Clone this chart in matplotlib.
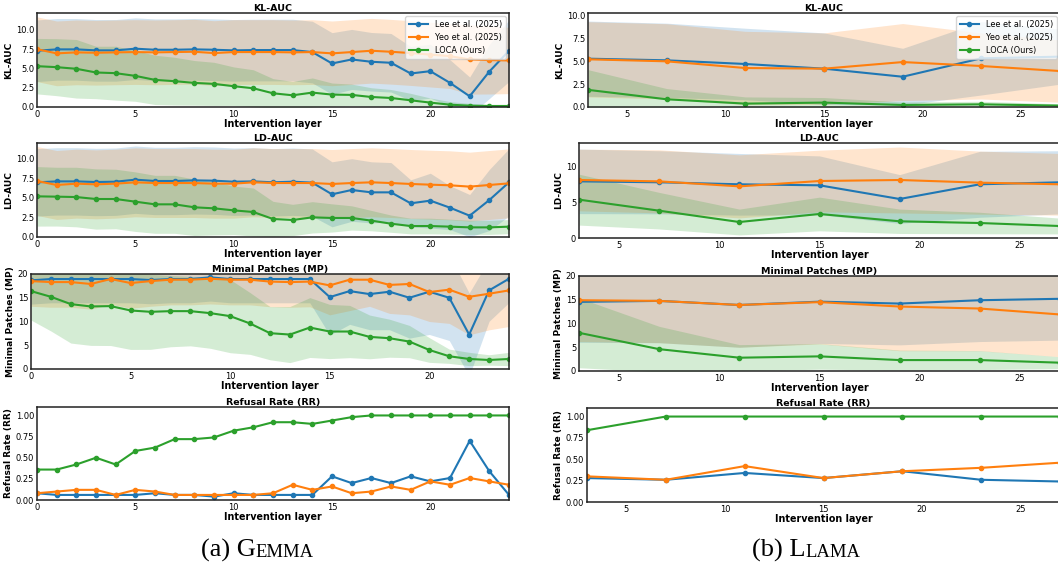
import matplotlib
matplotlib.use("Agg")
import matplotlib.pyplot as plt
import numpy as np

W, H = 1058, 565

methods = ["Lee et al. (2025)", "Yeo et al. (2025)", "LOCA (Ours)"]
colors = ["tab:blue", "tab:orange", "tab:green"]

# ---------------- Gemma (layers 0..24) ----------------
gemma_layers = list(range(25))

gemma_kl_lee = [7.3, 7.48, 7.48, 7.35, 7.35, 7.57, 7.43, 7.43, 7.48, 7.43, 7.35, 7.39, 7.39,
                7.39, 7.13, 5.65, 6.17, 5.87, 5.74, 4.35, 4.65, 3.13, 1.39, 4.6, 7.3]
gemma_kl_yeo = [7.5, 6.96, 7.09, 7.04, 7.09, 7.13, 7.09, 7.13, 7.17, 7.0, 7.13, 7.13, 7.13,
                7.09, 7.13, 6.96, 7.13, 7.3, 7.17, 7.0, 6.8, 6.6, 6.17, 6.09, 6.04]
gemma_kl_loca = [5.3, 5.17, 4.96, 4.48, 4.39, 4.04, 3.52, 3.35, 3.13, 3.0, 2.7, 2.43, 1.78,
                 1.52, 1.87, 1.61, 1.57, 1.3, 1.17, 0.87, 0.57, 0.3, 0.17, 0.13, 0.13]
gemma_kl_lee_std = [4.0] * 15 + [4.0, 3.9, 3.8, 3.8, 3.5, 3.5, 3.0, 2.5, 3.5, 4.0]
gemma_kl_yeo_std = [4.2] * 22 + [4.5, 4.4, 4.3]
gemma_kl_loca_std = [3.6, 3.7, 3.8, 3.4, 3.5, 3.3, 3.2, 3.1, 2.9, 2.8, 2.5, 2.4, 1.9,
                     1.8, 1.9, 1.5, 1.4, 1.2, 1.1, 0.9, 0.6, 0.4, 0.3, 0.2, 0.2]

gemma_ld_lee = [6.98, 7.1, 7.1, 7.02, 7.06, 7.32, 7.15, 7.15, 7.23, 7.19, 7.06, 7.1, 6.98,
                7.06, 6.94, 5.45, 6.0, 5.7, 5.7, 4.3, 4.64, 3.74, 2.72, 4.72, 6.98]
gemma_ld_yeo = [7.15, 6.64, 6.81, 6.72, 6.81, 6.98, 6.89, 6.89, 6.89, 6.81, 6.81, 6.98, 6.89,
                6.89, 6.89, 6.77, 6.89, 6.98, 6.89, 6.77, 6.68, 6.6, 6.43, 6.64, 6.85]
gemma_ld_loca = [5.19, 5.15, 5.1, 4.85, 4.85, 4.51, 4.17, 4.17, 3.79, 3.66, 3.4, 3.19, 2.3,
                 2.17, 2.51, 2.43, 2.43, 2.09, 1.7, 1.4, 1.4, 1.32, 1.23, 1.23, 1.32]
gemma_ld_lee_std = [4.3] * 15 + [4.15, 4.0, 3.9, 3.8, 3.0, 3.5, 2.8, 2.7, 3.9, 4.3]
gemma_ld_yeo_std = [4.4] * 25
gemma_ld_loca_std = [3.8, 3.75, 3.8, 3.85, 3.8, 3.8, 3.7, 3.7, 3.6, 3.4, 3.1, 3.06, 2.25,
                     2.0, 2.0, 1.8, 1.55, 1.3, 1.1, 1.0, 1.0, 0.95, 0.9, 0.9, 0.9]

gemma_mp_lee = [18.66, 18.94, 18.94, 18.94, 18.94, 18.94, 18.73, 18.94, 18.94, 19.3, 18.94, 18.94, 18.94,
                18.94, 18.94, 15.14, 16.4, 15.77, 16.27, 15.0, 16.27, 15.0, 7.25, 16.55, 19.0]
gemma_mp_yeo = [18.5, 18.3, 18.3, 17.9, 18.94, 18.1, 18.5, 18.8, 18.8, 19.0, 18.8, 18.8, 18.4,
                18.3, 18.4, 17.6, 18.8, 18.8, 17.7, 17.9, 16.2, 16.7, 15.2, 15.85, 16.55]
gemma_mp_loca = [16.4, 15.2, 13.66, 13.17, 13.24, 12.32, 12.04, 12.18, 12.18, 11.76, 11.13, 9.58, 7.54,
                 7.25, 8.73, 7.89, 7.89, 6.76, 6.48, 5.77, 4.0, 2.68, 2.11, 1.9, 2.11]
gemma_mp_lee_std = [5.0] * 15 + [8.0, 7.0, 7.5, 8.0, 8.5, 9.0, 9.0, 8.75, 6.5, 5.0]
gemma_mp_yeo_std = [5.3] * 15 + [6.2, 6.5, 5.6, 6.0, 6.5, 6.2, 7.1, 8.0, 7.6, 7.6]
gemma_mp_loca_std = [6.1, 7.2, 8.2, 8.2, 8.3, 8.2, 7.9, 7.5, 7.3, 7.4, 7.7, 6.5, 5.6,
                     5.9, 6.3, 5.7, 5.5, 4.6, 4.0, 3.4, 2.6, 1.5, 1.4, 1.1, 1.4]

gemma_rr_lee = [0.08, 0.06, 0.06, 0.06, 0.06, 0.06, 0.08, 0.06, 0.06, 0.04, 0.08, 0.06, 0.06,
                0.06, 0.06, 0.28, 0.20, 0.26, 0.20, 0.28, 0.22, 0.26, 0.70, 0.34, 0.06]
gemma_rr_yeo = [0.08, 0.10, 0.12, 0.12, 0.06, 0.12, 0.10, 0.06, 0.06, 0.06, 0.06, 0.06, 0.08,
                0.18, 0.12, 0.16, 0.08, 0.10, 0.16, 0.12, 0.22, 0.18, 0.26, 0.22, 0.18]
gemma_rr_loca = [0.36, 0.36, 0.42, 0.50, 0.42, 0.58, 0.62, 0.72, 0.72, 0.74, 0.82, 0.86, 0.92,
                 0.92, 0.90, 0.94, 0.98, 1.0, 1.0, 1.0, 1.0, 1.0, 1.0, 1.0, 1.0]

# ---------------- Llama (every 4th layer) ----------------
llama_layers = [3, 7, 11, 15, 19, 23, 27]

llama_kl_lee = [5.27, 5.09, 4.69, 4.18, 3.3, 5.31, 5.49]
llama_kl_yeo = [5.2, 4.98, 4.25, 4.18, 4.9, 4.47, 3.92]
llama_kl_loca = [1.87, 0.84, 0.37, 0.48, 0.22, 0.29, 0.15]
llama_kl_lee_std = [4.1, 4.05, 3.9, 3.9, 3.1, 4.0, 3.0]
llama_kl_yeo_std = [4.1, 4.1, 4.0, 3.9, 4.2, 3.6, 3.4]
llama_kl_loca_std = [2.2, 1.17, 0.73, 0.55, 0.33, 0.33, 0.2]

llama_ld_lee = [7.9, 7.77, 7.49, 7.35, 5.44, 7.49, 7.77]
llama_ld_yeo = [8.09, 7.9, 7.2, 7.95, 8.09, 7.72, 7.49]
llama_ld_loca = [5.35, 3.81, 2.23, 3.35, 2.33, 2.09, 1.67]
llama_ld_lee_std = [4.5, 4.4, 4.3, 4.1, 3.4, 4.6, 4.4]
llama_ld_yeo_std = [4.3, 4.4, 4.4, 4.3, 4.6, 4.4, 4.3]
llama_ld_loca_std = [3.55, 2.55, 1.8, 2.35, 1.7, 1.5, 1.1]

llama_mp_lee = [14.55, 14.76, 13.9, 14.6, 14.2, 14.9, 15.2]
llama_mp_yeo = [14.9, 14.76, 13.9, 14.5, 13.57, 13.15, 11.9]
llama_mp_loca = [8.04, 4.6, 2.8, 3.08, 2.3, 2.3, 1.75]
llama_mp_lee_std = [8.5, 8.8, 8.9, 8.8, 8.7, 8.7, 8.7]
llama_mp_yeo_std = [8.7, 8.8, 8.9, 8.8, 9.3, 8.9, 8.9]
llama_mp_loca_std = [7.35, 4.8, 2.75, 2.7, 2.1, 2.0, 1.25]

llama_rr_lee = [0.28, 0.26, 0.34, 0.28, 0.36, 0.26, 0.24]
llama_rr_yeo = [0.30, 0.26, 0.42, 0.28, 0.36, 0.40, 0.46]
llama_rr_loca = [0.84, 1.0, 1.0, 1.0, 1.0, 1.0, 1.0]

llama_ticks = [5, 10, 15, 20, 25]


def px_axes(fig, left, top, right, bottom):
    return fig.add_axes([left / W, 1 - bottom / H, (right - left) / W, (bottom - top) / H])


def draw_panel(ax, x, means, stds, title, ylabel, ylim, xlim, legend=False):
    if stds is not None:
        for m, s, c in zip(means, stds, colors):
            m = np.array(m)
            s = np.array(s)
            ax.fill_between(x, m - s, m + s, color=c, alpha=0.2, lw=0)
    for m, c, lab in zip(means, colors, methods):
        ax.plot(x, m, '-o', color=c, lw=1.5, ms=3, label=lab)
    ax.set_xlim(*xlim)
    ax.set_ylim(*ylim)
    ax.set_title(title, fontsize=6.8, fontweight='bold', pad=1.5)
    ax.set_ylabel(ylabel, fontsize=6.5, fontweight='bold', labelpad=2)
    ax.set_xlabel("Intervention layer", fontsize=6.9, fontweight='bold', labelpad=0.5)
    ax.tick_params(labelsize=6, length=0, pad=2)
    for sp in ax.spines.values():
        sp.set_linewidth(1.1)
        sp.set_color('#222222')
    if legend:
        ax.legend(loc='upper right', fontsize=5.9, handlelength=2.4, borderpad=0.45,
                  labelspacing=0.5, borderaxespad=0.4)


def small_caps(fig, renderer, x, y, first, rest):
    t = fig.text(x / W, 1 - y / H, first, fontsize=19, family='Liberation Serif', va='baseline')
    bb = t.get_window_extent(renderer)
    fig.text(bb.x1 / W, 1 - y / H, rest, fontsize=13.4, family='Liberation Serif', va='baseline')


fig = plt.figure(figsize=(W / 100, H / 100), dpi=100)

# left column: Gemma
ax = px_axes(fig, 37, 13, 509, 107)
draw_panel(ax, gemma_layers, [gemma_kl_lee, gemma_kl_yeo, gemma_kl_loca],
           [gemma_kl_lee_std, gemma_kl_yeo_std, gemma_kl_loca_std],
           "KL-AUC", "KL-AUC", (0, 12.2), (0, 24), legend=True)
ax.set_yticks([0, 2.5, 5, 7.5, 10])
ax = px_axes(fig, 37, 143, 509, 237)
draw_panel(ax, gemma_layers, [gemma_ld_lee, gemma_ld_yeo, gemma_ld_loca],
           [gemma_ld_lee_std, gemma_ld_yeo_std, gemma_ld_loca_std],
           "LD-AUC", "LD-AUC", (0, 12), (0, 24))
ax.set_yticks([0, 2.5, 5, 7.5, 10])
ax = px_axes(fig, 31, 274, 509, 369)
draw_panel(ax, gemma_layers, [gemma_mp_lee, gemma_mp_yeo, gemma_mp_loca],
           [gemma_mp_lee_std, gemma_mp_yeo_std, gemma_mp_loca_std],
           "Minimal Patches (MP)", "Minimal Patches (MP)", (0, 20), (0, 24))
ax = px_axes(fig, 37, 407, 509, 500)
draw_panel(ax, gemma_layers, [gemma_rr_lee, gemma_rr_yeo, gemma_rr_loca], None,
           "Refusal Rate (RR)", "Refusal Rate (RR)", (0, 1.1), (0, 24))
ax.set_yticks([0, 0.25, 0.5, 0.75, 1.0])

# right column: Llama (the source figure is cut at the right edge)
ax = px_axes(fig, 588, 13, 1060, 107)
draw_panel(ax, llama_layers, [llama_kl_lee, llama_kl_yeo, llama_kl_loca],
           [llama_kl_lee_std, llama_kl_yeo_std, llama_kl_loca_std],
           "KL-AUC", "KL-AUC", (0, 10.25), (3, 27), legend=True)
ax.set_yticks([0, 2.5, 5, 7.5, 10])
ax.set_xticks(llama_ticks)
ax = px_axes(fig, 579, 143, 1060, 238)
draw_panel(ax, llama_layers, [llama_ld_lee, llama_ld_yeo, llama_ld_loca],
           [llama_ld_lee_std, llama_ld_yeo_std, llama_ld_loca_std],
           "LD-AUC", "LD-AUC", (0, 13.25), (3, 27))
ax.set_xticks(llama_ticks)
ax = px_axes(fig, 579, 276, 1060, 371)
draw_panel(ax, llama_layers, [llama_mp_lee, llama_mp_yeo, llama_mp_loca],
           [llama_mp_lee_std, llama_mp_yeo_std, llama_mp_loca_std],
           "Minimal Patches (MP)", "Minimal Patches (MP)", (0, 20), (3, 27))
ax.set_xticks(llama_ticks)
ax = px_axes(fig, 587, 408, 1060, 502)
draw_panel(ax, llama_layers, [llama_rr_lee, llama_rr_yeo, llama_rr_loca], None,
           "Refusal Rate (RR)", "Refusal Rate (RR)", (0, 1.1), (3, 27))
ax.set_yticks([0, 0.25, 0.5, 0.75, 1.0])
ax.set_xticks(llama_ticks)

# captions in small caps
renderer = fig.canvas.get_renderer()
small_caps(fig, renderer, 201, 557, "(a) G", "EMMA")
small_caps(fig, renderer, 752, 557, "(b) L", "LAMA")

fig.savefig("out.png", dpi=100)
